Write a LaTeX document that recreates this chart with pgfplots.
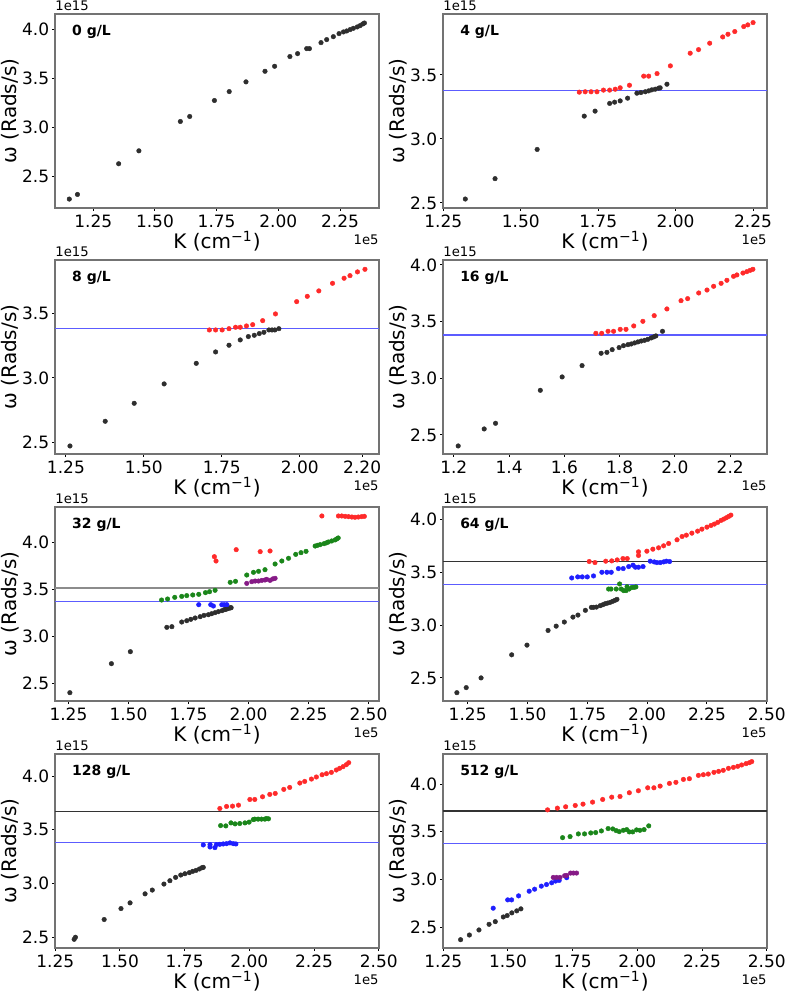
\documentclass[border=0pt]{standalone}
\usepackage{fontspec}
\setmainfont{DejaVu Sans}
\usepackage{pgfplots}
\pgfplotsset{compat=1.18}

\definecolor{lineblue}{HTML}{5C5CFF}
\definecolor{ptblack}{HTML}{2E2E2E}
\definecolor{ptred}{HTML}{FF2A2A}
\definecolor{ptblue}{HTML}{1F1FFF}
\definecolor{ptgreen}{HTML}{1A861A}
\definecolor{ptpurple}{HTML}{861A86}

\pgfplotsset{
  panel/.style={
    scale only axis, width=162pt, height=97pt, anchor=north west,
    axis line style={black!55, line width=0.6pt},
    tick align=outside, tick pos=left,
    major tick length=1.5pt, tick style={black, line width=0.5pt},
    scaled ticks=false,
    /pgf/number format/assume math mode=true,
    xticklabel style={anchor=north, inner sep=0pt,
      /pgf/number format/.cd, fixed, fixed zerofill, precision=2},
    yticklabel style={anchor=east, inner sep=0pt,
      /pgf/number format/.cd, fixed, fixed zerofill, precision=1},
    xticklabel shift=1.8pt, yticklabel shift=1.2pt,
    ticklabel style={font=\fontsize{8.5}{10}\selectfont},
    xlabel={K (cm\textsuperscript{−1})},
    ylabel={ω (Rads/s)},
    label style={font=\fontsize{8.5}{10}\selectfont},
    every axis x label/.style={at={(axis description cs:0.5,-0.172)}, anchor=center},
    every axis y label/.style={at={(axis description cs:-0.139,0.5)}, anchor=center, rotate=90},
    clip=false,
  },
  pts/.style={only marks, color=#1, mark=*, mark size=1.15pt,
    mark options={draw=#1, fill=#1, line width=0.2pt}},
  hl/.style={#1, line width=0.7pt, forget plot},
}
% scale factors and the concentration tag of each panel
\newcommand{\decor}[1]{%
  \node[anchor=south west, font=\fontsize{6.6}{8}\selectfont, inner sep=0pt] at (axis description cs:0,1.015) {1e15};
  \node[anchor=east, font=\fontsize{6.6}{8}\selectfont, inner sep=0pt] at (axis description cs:1,-0.165) {1e5};
  \node[anchor=west, font=\fontsize{7}{8}\selectfont\bfseries, inner sep=0pt] at (axis description cs:0.052,0.907) {#1};
}

\begin{document}
\begin{tikzpicture}
\path[use as bounding box] (0,0) rectangle (394pt,496pt);

% ---------------- 0 g/L ----------------
\begin{axis}[panel, at={(27.5pt,489pt)},
  xmin=1.095, xmax=2.408, ymin=2.178, ymax=4.156,
  xtick={1.25,1.5,1.75,2.0,2.25}, ytick={2.5,3.0,3.5,4.0}]
\addplot[pts=ptblack] coordinates {
(1.153,2.269)(1.186,2.316)(1.353,2.629)(1.435,2.761)(1.603,3.060)(1.641,3.111)
(1.741,3.274)(1.801,3.365)(1.869,3.464)(1.946,3.572)(1.985,3.623)(2.047,3.722)
(2.078,3.752)(2.115,3.803)(2.126,3.803)(2.173,3.864)(2.196,3.895)(2.223,3.925)
(2.246,3.956)(2.264,3.973)(2.277,3.983)(2.291,3.997)(2.304,4.010)(2.320,4.024)
(2.331,4.037)(2.342,4.054)(2.349,4.064)};
\decor{0 g/L}
\end{axis}

% ---------------- 4 g/L ----------------
\begin{axis}[panel, at={(221.5pt,489pt)},
  xmin=1.249, xmax=2.295, ymin=2.461, ymax=3.975,
  xtick={1.25,1.5,1.75,2.0,2.25}, ytick={2.5,3.0,3.5}]
\addplot[hl=lineblue] coordinates {(1.249,3.378)(2.295,3.378)};
\addplot[pts=ptblack] coordinates {
(1.321,2.531)(1.417,2.690)(1.553,2.918)(1.705,3.178)(1.740,3.217)(1.787,3.277)
(1.803,3.287)(1.821,3.297)(1.845,3.318)(1.875,3.357)(1.888,3.362)(1.902,3.368)
(1.913,3.375)(1.923,3.383)(1.934,3.388)(1.945,3.396)(1.950,3.399)(1.972,3.427)};
\addplot[pts=ptred] coordinates {
(1.689,3.365)(1.708,3.368)(1.727,3.368)(1.746,3.368)(1.767,3.381)(1.787,3.381)
(1.805,3.388)(1.821,3.399)(1.851,3.419)(1.897,3.490)(1.913,3.490)(1.940,3.510)
(1.983,3.570)(2.047,3.669)(2.074,3.697)(2.110,3.747)(2.152,3.796)(2.169,3.817)
(2.191,3.838)(2.220,3.877)(2.233,3.890)(2.250,3.908)};
\decor{4 g/L}
\end{axis}

% ---------------- 8 g/L ----------------
\begin{axis}[panel, at={(27.5pt,366pt)},
  xmin=1.215, xmax=2.254, ymin=2.412, ymax=3.912,
  xtick={1.25,1.5,1.75,2.0,2.2}, ytick={2.5,3.0,3.5}]
\addplot[hl=lineblue] coordinates {(1.215,3.384)(2.254,3.384)};
\addplot[pts=ptblack] coordinates {
(1.263,2.474)(1.376,2.665)(1.469,2.804)(1.565,2.954)(1.668,3.113)(1.730,3.201)
(1.773,3.253)(1.809,3.294)(1.835,3.320)(1.854,3.330)(1.870,3.343)(1.885,3.353)
(1.901,3.371)(1.911,3.371)(1.920,3.371)(1.933,3.381)};
\addplot[pts=ptred] coordinates {
(1.710,3.371)(1.730,3.371)(1.751,3.371)(1.773,3.381)(1.794,3.392)(1.809,3.392)
(1.829,3.402)(1.849,3.412)(1.881,3.443)(1.922,3.495)(1.990,3.590)(2.024,3.631)
(2.061,3.673)(2.105,3.732)(2.142,3.771)(2.161,3.791)(2.185,3.820)(2.209,3.840)};
\decor{8 g/L}
\end{axis}

% ---------------- 16 g/L ----------------
\begin{axis}[panel, at={(221.5pt,366pt)},
  xmin=1.161, xmax=2.333, ymin=2.332, ymax=4.044,
  xtick={1.2,1.4,1.6,1.8,2.0,2.2}, ytick={2.5,3.0,3.5,4.0},
  xticklabel style={/pgf/number format/.cd, fixed, fixed zerofill, precision=1}]
\addplot[hl=lineblue] coordinates {(1.161,3.382)(2.333,3.382)};
\addplot[pts=ptblack] coordinates {
(1.216,2.403)(1.310,2.553)(1.351,2.603)(1.513,2.894)(1.592,3.012)(1.664,3.112)
(1.733,3.221)(1.754,3.229)(1.773,3.253)(1.798,3.271)(1.814,3.288)(1.830,3.297)
(1.842,3.303)(1.854,3.312)(1.866,3.321)(1.878,3.329)(1.890,3.335)(1.902,3.344)
(1.914,3.356)(1.923,3.365)(1.931,3.374)(1.955,3.415)};
\addplot[pts=ptred] coordinates {
(1.714,3.397)(1.735,3.397)(1.758,3.415)(1.778,3.415)(1.802,3.432)(1.823,3.432)
(1.851,3.462)(1.884,3.503)(1.925,3.553)(1.971,3.612)(2.022,3.685)(2.046,3.703)
(2.086,3.753)(2.116,3.779)(2.140,3.812)(2.167,3.838)(2.188,3.865)(2.212,3.900)
(2.224,3.912)(2.246,3.929)(2.260,3.941)(2.272,3.953)(2.282,3.962)};
\decor{16 g/L}
\end{axis}

% ---------------- 32 g/L ----------------
\begin{axis}[panel, at={(27.5pt,242.5pt)},
  xmin=1.194, xmax=2.544, ymin=2.308, ymax=4.381,
  xtick={1.25,1.5,1.75,2.0,2.25,2.5}, ytick={2.5,3.0,3.5,4.0}]
\addplot[hl={black!45, line width=0.9pt}] coordinates {(1.194,3.515)(2.544,3.515)};
\addplot[hl=lineblue] coordinates {(1.194,3.373)(2.544,3.373)};
\addplot[pts=ptblack] coordinates {
(1.256,2.397)(1.429,2.707)(1.508,2.835)(1.660,3.095)(1.681,3.102)(1.722,3.152)
(1.743,3.166)(1.760,3.181)(1.778,3.195)(1.799,3.209)(1.815,3.223)(1.833,3.230)
(1.847,3.241)(1.861,3.252)(1.875,3.263)(1.890,3.273)(1.899,3.284)(1.910,3.291)
(1.921,3.302)(1.928,3.305)(1.905,3.288)(1.916,3.298)(1.925,3.303)};
\addplot[pts=ptblue] coordinates {
(1.793,3.337)(1.843,3.337)(1.854,3.323)(1.889,3.337)(1.899,3.337)(1.910,3.337)};
\addplot[pts=ptgreen] coordinates {
(1.638,3.387)(1.663,3.398)(1.693,3.416)(1.722,3.426)(1.743,3.434)(1.768,3.441)
(1.793,3.448)(1.821,3.466)(1.838,3.476)(1.861,3.491)(1.924,3.576)(1.946,3.587)
(1.993,3.654)(2.021,3.683)(2.042,3.694)(2.069,3.711)(2.111,3.772)(2.139,3.804)
(2.167,3.833)(2.197,3.875)(2.219,3.893)(2.240,3.907)(2.278,3.964)(2.288,3.972)
(2.299,3.979)(2.315,3.989)(2.325,3.998)(2.333,4.007)(2.347,4.018)(2.361,4.029)
(2.368,4.040)(2.374,4.050)};
\addplot[pts=ptpurple] coordinates {
(1.993,3.565)(2.014,3.583)(2.028,3.590)(2.042,3.590)(2.056,3.597)(2.069,3.601)
(2.076,3.608)(2.090,3.597)(2.101,3.612)(2.111,3.619)};
\addplot[pts=ptred] coordinates {
(1.858,3.850)(1.865,3.804)(1.949,3.925)(2.049,3.904)(2.090,3.911)(2.306,4.285)
(2.375,4.285)(2.389,4.285)(2.403,4.281)(2.417,4.278)(2.431,4.274)(2.444,4.271)
(2.458,4.274)(2.472,4.278)(2.483,4.281)};
\decor{32 g/L}
\end{axis}

% ---------------- 64 g/L ----------------
\begin{axis}[panel, at={(221.5pt,242.5pt)},
  xmin=1.147, xmax=2.501, ymin=2.281, ymax=4.121,
  xtick={1.25,1.5,1.75,2.0,2.25,2.5}, ytick={2.5,3.0,3.5,4.0}]
\addplot[hl={black!80}] coordinates {(1.147,3.604)(2.501,3.604)};
\addplot[hl=lineblue] coordinates {(1.147,3.386)(2.501,3.386)};
\addplot[pts=ptblack] coordinates {
(1.205,2.360)(1.244,2.408)(1.306,2.500)(1.434,2.719)(1.498,2.811)(1.586,2.950)
(1.620,2.991)(1.654,3.030)(1.690,3.077)(1.711,3.096)(1.742,3.141)(1.767,3.169)
(1.776,3.169)(1.788,3.172)(1.804,3.185)(1.815,3.194)(1.825,3.204)(1.835,3.210)
(1.846,3.217)(1.856,3.226)(1.866,3.236)(1.874,3.245)};
\addplot[pts=ptgreen] coordinates {
(1.839,3.343)(1.849,3.343)(1.871,3.343)(1.885,3.391)(1.892,3.343)(1.902,3.328)
(1.912,3.328)(1.916,3.366)(1.925,3.343)(1.937,3.359)(1.946,3.359)(1.953,3.363)};
\addplot[pts=ptblue] coordinates {
(1.685,3.448)(1.710,3.458)(1.729,3.458)(1.750,3.458)(1.776,3.467)(1.811,3.502)
(1.832,3.502)(1.850,3.502)(1.880,3.537)(1.900,3.537)(1.923,3.556)(1.941,3.569)
(1.951,3.550)(1.964,3.550)(1.983,3.556)(2.013,3.607)(2.030,3.600)(2.041,3.594)
(2.055,3.594)(2.069,3.600)(2.080,3.607)(2.094,3.604)};
\addplot[pts=ptred] coordinates {
(1.758,3.604)(1.782,3.594)(1.827,3.607)(1.852,3.610)(1.875,3.619)(1.899,3.632)
(1.917,3.632)(1.964,3.696)(1.964,3.661)(1.999,3.702)(2.024,3.721)(2.048,3.734)
(2.069,3.753)(2.090,3.775)(2.125,3.810)(2.146,3.841)(2.164,3.854)(2.187,3.873)
(2.211,3.892)(2.229,3.911)(2.250,3.930)(2.267,3.946)(2.281,3.959)(2.295,3.975)
(2.309,3.994)(2.320,4.006)(2.331,4.019)(2.341,4.032)(2.350,4.044)};
\decor{64 g/L}
\end{axis}

% ---------------- 128 g/L ----------------
\begin{axis}[panel, at={(27.5pt,119pt)},
  xmin=1.249, xmax=2.501, ymin=2.400, ymax=4.205,
  xtick={1.25,1.5,1.75,2.0,2.25,2.5}, ytick={2.5,3.0,3.5,4.0}]
\addplot[hl={black!80}] coordinates {(1.249,3.670)(2.501,3.670)};
\addplot[hl=lineblue] coordinates {(1.249,3.381)(2.501,3.381)};
\addplot[pts=ptblack] coordinates {
(1.323,2.481)(1.328,2.500)(1.439,2.665)(1.504,2.767)(1.539,2.820)(1.597,2.904)
(1.625,2.939)(1.670,2.995)(1.693,3.026)(1.715,3.057)(1.735,3.079)(1.751,3.091)
(1.768,3.101)(1.781,3.113)(1.794,3.122)(1.807,3.135)(1.817,3.147)(1.822,3.150)};
\addplot[pts=ptblue] coordinates {
(1.822,3.359)(1.848,3.340)(1.848,3.362)(1.867,3.334)(1.873,3.362)(1.886,3.365)
(1.899,3.368)(1.912,3.371)(1.925,3.378)(1.938,3.371)(1.948,3.368)};
\addplot[pts=ptgreen] coordinates {
(1.889,3.539)(1.909,3.536)(1.929,3.564)(1.945,3.555)(1.963,3.558)(1.983,3.564)
(1.999,3.571)(2.015,3.595)(2.021,3.599)(2.034,3.599)(2.047,3.599)(2.060,3.599)
(2.066,3.605)(2.074,3.602)};
\addplot[pts=ptred] coordinates {
(1.886,3.698)(1.912,3.717)(1.935,3.720)(1.958,3.729)(2.002,3.782)(2.021,3.782)
(2.051,3.807)(2.079,3.829)(2.100,3.838)(2.133,3.876)(2.156,3.894)(2.195,3.935)
(2.214,3.950)(2.240,3.972)(2.259,3.991)(2.281,4.012)(2.298,4.022)(2.317,4.034)
(2.336,4.056)(2.349,4.072)(2.362,4.087)(2.375,4.106)(2.384,4.124)};
\decor{128 g/L}
\end{axis}

% ---------------- 512 g/L ----------------
\begin{axis}[panel, at={(221.5pt,119pt)},
  xmin=1.249, xmax=2.501, ymin=2.283, ymax=4.315,
  xtick={1.25,1.5,1.75,2.0,2.25,2.5}, ytick={2.5,3.0,3.5,4.0}]
\addplot[hl={black!80}] coordinates {(1.249,3.720)(2.501,3.720)};
\addplot[hl=lineblue] coordinates {(1.249,3.380)(2.501,3.380)};
\addplot[pts=ptblack] coordinates {
(1.317,2.370)(1.351,2.419)(1.388,2.472)(1.427,2.531)(1.451,2.559)(1.482,2.608)
(1.497,2.623)(1.515,2.651)(1.534,2.672)(1.550,2.693)};
\addplot[pts=ptblue] coordinates {
(1.443,2.700)(1.499,2.787)(1.514,2.787)(1.541,2.829)(1.582,2.878)(1.603,2.899)
(1.629,2.931)(1.649,2.948)(1.669,2.966)(1.684,2.984)(1.698,2.991)(1.727,3.019)};
\addplot[pts=ptpurple] coordinates {
(1.675,3.022)(1.688,3.022)(1.701,3.022)(1.719,3.040)(1.727,3.043)(1.742,3.068)
(1.753,3.068)(1.765,3.068)};
\addplot[pts=ptgreen] coordinates {
(1.711,3.439)(1.740,3.450)(1.772,3.478)(1.796,3.478)(1.820,3.488)(1.839,3.492)
(1.861,3.509)(1.887,3.534)(1.905,3.530)(1.918,3.513)(1.930,3.502)(1.946,3.516)
(1.959,3.523)(1.969,3.499)(1.982,3.499)(1.997,3.520)(2.010,3.516)(2.026,3.523)
(2.044,3.562)};
\addplot[pts=ptred] coordinates {
(1.653,3.730)(1.691,3.748)(1.723,3.762)(1.760,3.776)(1.790,3.790)(1.827,3.811)
(1.866,3.839)(1.901,3.863)(1.933,3.870)(1.969,3.909)(2.004,3.930)(2.040,3.961)
(2.064,3.961)(2.088,3.979)(2.124,4.007)(2.149,4.018)(2.178,4.049)(2.201,4.056)
(2.236,4.091)(2.255,4.098)(2.274,4.105)(2.296,4.123)(2.314,4.133)(2.332,4.144)
(2.352,4.165)(2.371,4.175)(2.388,4.186)(2.403,4.200)(2.420,4.214)(2.433,4.224)
(2.442,4.235)};
\decor{512 g/L}
\end{axis}
\end{tikzpicture}
\end{document}
